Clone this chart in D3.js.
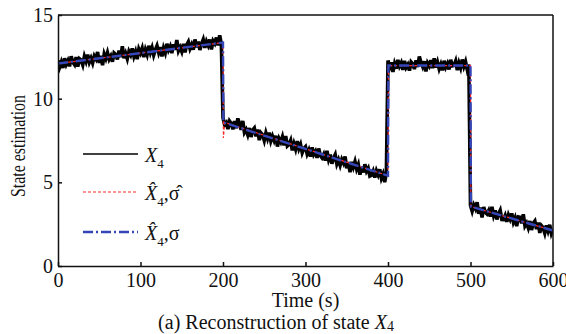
<!DOCTYPE html>
<html>
<head>
<meta charset="utf-8">
<script src="https://cdn.jsdelivr.net/npm/d3@7"></script>
<style>
  body { margin: 0; background: #fff; }
</style>
</head>
<body>
<div id="chart"></div>
<script>
// Measured state X4, sampled every 2 s
const measuredTime = d3.range(0, 601, 2);
const measuredX4 = [
  12.28, 11.89, 12.18, 11.83, 12.42, 12.05, 12.27, 11.93, 12.53, 12.18,
  12.04, 12.48, 11.91, 12.38, 12.30, 12.02, 12.52, 12.23, 12.63, 12.18,
  12.42, 12.13, 12.54, 12.37, 12.79, 12.14, 12.56, 12.00, 12.66, 12.40,
  12.75, 12.36, 12.55, 12.21, 12.73, 12.64, 12.34, 12.87, 12.48, 13.13,
  12.42, 12.70, 12.38, 12.82, 12.62, 13.00, 12.52, 12.81, 12.36, 12.96,
  12.73, 13.01, 12.48, 12.92, 12.64, 13.16, 12.76, 13.05, 12.60, 12.91,
  13.16, 12.76, 13.08, 12.52, 13.02, 12.74, 13.28, 12.91, 13.12, 12.72,
  13.24, 12.92, 13.51, 12.86, 13.07, 12.82, 13.27, 12.77, 13.22, 13.40,
  12.99, 13.23, 12.93, 13.54, 13.07, 13.41, 12.91, 13.28, 13.53, 13.04,
  13.42, 13.19, 13.54, 12.94, 13.45, 13.30, 13.65, 13.18, 13.78, 13.25,
  8.86, 8.43, 8.56, 8.18, 8.66, 8.52, 8.17, 8.66, 8.23, 8.82,
  8.50, 8.14, 8.67, 7.98, 8.15, 7.85, 8.25, 7.71, 8.12, 8.24,
  7.75, 8.15, 7.52, 7.95, 7.83, 7.50, 7.95, 7.62, 7.98, 7.47,
  7.76, 7.49, 7.78, 7.14, 7.61, 7.41, 7.71, 7.20, 7.76, 7.17,
  7.26, 7.50, 6.91, 7.31, 6.99, 7.46, 7.01, 7.26, 6.77, 7.02,
  7.13, 6.70, 6.93, 6.54, 7.09, 6.67, 6.84, 6.46, 7.02, 6.61,
  6.47, 6.67, 6.31, 6.88, 6.37, 6.66, 6.11, 6.44, 6.65, 6.10,
  6.35, 6.02, 6.37, 6.16, 6.54, 5.84, 6.21, 5.61, 6.23, 5.91,
  6.24, 5.80, 6.06, 5.46, 5.92, 5.59, 6.08, 5.67, 5.84, 5.38,
  5.43, 5.67, 5.29, 5.69, 5.45, 5.78, 5.25, 5.50, 5.01, 5.55,
  12.28, 11.87, 12.17, 11.60, 12.09, 11.79, 12.32, 11.94, 12.14, 11.72,
  12.26, 11.86, 12.03, 11.68, 12.19, 12.08, 11.77, 12.29, 11.89, 12.52,
  12.15, 11.91, 12.24, 11.63, 12.13, 11.96, 12.30, 11.82, 12.41, 11.86,
  12.18, 11.78, 12.05, 11.69, 12.27, 11.88, 12.09, 11.74, 12.33, 11.96,
  11.98, 12.25, 11.70, 12.13, 11.84, 12.34, 11.93, 12.21, 11.75, 12.04,
  3.61, 3.28, 3.64, 3.43, 3.81, 3.12, 3.50, 2.90, 3.52, 3.21,
  3.11, 3.31, 2.96, 3.53, 3.02, 3.32, 2.78, 3.11, 3.32, 2.78,
  2.77, 3.01, 2.64, 3.04, 2.80, 3.14, 2.62, 2.87, 2.38, 2.93,
  2.91, 2.55, 3.09, 2.40, 2.57, 2.28, 2.69, 2.15, 2.56, 2.69,
  2.20, 2.60, 1.98, 2.41, 2.29, 1.97, 2.43, 2.10, 2.46, 1.96,
  2.22
];

// Reconstruction with estimated sigma (red dashed)
const estHatTime = [0, 200, 200.5, 202, 400, 400.5, 500, 500.5, 600];
const estHatX4 = [12.10, 13.35, 7.65, 8.58, 5.40, 11.98, 11.98, 3.55, 2.12];

// Reconstruction with true sigma (blue dash-dot)
const estTime = [0, 200, 200.5, 400, 400.5, 500, 500.5, 600];
const estX4 = [12.10, 13.35, 8.58, 5.40, 11.98, 11.98, 3.55, 2.12];

const xTicks = [0, 100, 200, 300, 400, 500, 600];
const yTicks = [0, 5, 10, 15];

const serif = '"Liberation Serif", "DejaVu Serif", "Times New Roman", Times, serif';

const width = 566, height = 334;
const margin = { top: 15, right: 13, bottom: 68, left: 58 };

const svg = d3.select('#chart')
  .append('svg')
  .attr('width', width)
  .attr('height', height)
  .style('font-family', serif);

const x = d3.scaleLinear().domain([0, 600]).range([margin.left, width - margin.right]);
const y = d3.scaleLinear().domain([0, 15]).range([height - margin.bottom, margin.top]);

const plot = svg.append('g');

// clip so the noisy trace stays in the frame
svg.append('clipPath').attr('id', 'clip')
  .append('rect')
  .attr('x', x(0)).attr('y', y(15))
  .attr('width', x(600) - x(0)).attr('height', y(0) - y(15));

const lineMeasured = d3.line()
  .x((d, i) => x(measuredTime[i]))
  .y(d => y(d));

plot.append('path')
  .attr('clip-path', 'url(#clip)')
  .attr('d', lineMeasured(measuredX4))
  .attr('fill', 'none')
  .attr('stroke', '#000')
  .attr('stroke-width', 3.6);

const lineHat = d3.line()
  .x((d, i) => x(estHatTime[i]))
  .y(d => y(d));

plot.append('path')
  .attr('d', lineHat(estHatX4))
  .attr('fill', 'none')
  .attr('stroke', '#ff2a2a')
  .attr('stroke-width', 1.2)
  .attr('stroke-dasharray', '3,2');

const lineEst = d3.line()
  .x((d, i) => x(estTime[i]))
  .y(d => y(d));

plot.append('path')
  .attr('d', lineEst(estX4))
  .attr('fill', 'none')
  .attr('stroke', '#3546b8')
  .attr('stroke-width', 2.4)
  .attr('stroke-dasharray', '10,3,2,3');

// Axes (ticks inward)
const xAxis = svg.append('g')
  .attr('transform', `translate(0,${y(0)})`)
  .call(d3.axisBottom(x).tickValues(xTicks).tickSizeInner(-4).tickSizeOuter(0).tickPadding(7));
const yAxis = svg.append('g')
  .attr('transform', `translate(${x(0)},0)`)
  .call(d3.axisLeft(y).tickValues(yTicks).tickSizeInner(-4).tickSizeOuter(0).tickPadding(5));

[xAxis, yAxis].forEach(a => {
  a.attr('font-family', serif).attr('font-size', 20);
  a.select('.domain').attr('stroke', '#111').attr('stroke-width', 1.5);
  a.selectAll('line').attr('stroke', '#111').attr('stroke-width', 1.5);
  a.selectAll('text').attr('fill', '#111');
});

// top and right frame
svg.append('line')
  .attr('x1', x(0)).attr('x2', x(600)).attr('y1', y(15)).attr('y2', y(15))
  .attr('stroke', '#111').attr('stroke-width', 1.5);
svg.append('line')
  .attr('x1', x(600)).attr('x2', x(600)).attr('y1', y(15)).attr('y2', y(0))
  .attr('stroke', '#111').attr('stroke-width', 1.5);

// Axis titles
svg.append('text')
  .attr('x', (x(0) + x(600)) / 2)
  .attr('y', 307)
  .attr('text-anchor', 'middle')
  .attr('font-size', 20)
  .attr('fill', '#111')
  .text('Time (s)');

svg.append('text')
  .attr('transform', `translate(25,146) rotate(-90)`)
  .attr('text-anchor', 'middle')
  .attr('font-size', 20)
  .attr('textLength', 102)
  .attr('lengthAdjust', 'spacingAndGlyphs')
  .attr('fill', '#111')
  .text('State estimation');

// Caption
const cap = svg.append('text')
  .attr('x', 276)
  .attr('y', 329)
  .attr('text-anchor', 'middle')
  .attr('font-size', 20)
  .attr('fill', '#111');
cap.append('tspan').text('(a) Reconstruction of state ');
cap.append('tspan').attr('font-style', 'italic').text('X');
cap.append('tspan').attr('font-size', 14).attr('dy', 1.5).text('4');

// Legend
const legendItems = [
  { color: '#000', width: 1.6, dash: null, y: 154, hatX: false, sigma: null },
  { color: '#ff2a2a', width: 1.2, dash: '3,2', y: 192, hatX: true, sigma: 'σ\u0302' },
  { color: '#3546b8', width: 2.4, dash: '10,3,2,3', y: 232, hatX: true, sigma: 'σ' }
];

const legend = svg.append('g');
legendItems.forEach(item => {
  legend.append('line')
    .attr('x1', 83).attr('x2', 138)
    .attr('y1', item.y).attr('y2', item.y)
    .attr('stroke', item.color)
    .attr('stroke-width', item.width)
    .attr('stroke-dasharray', item.dash);

  const t = legend.append('text')
    .attr('x', 145)
    .attr('y', item.y + 8)
    .attr('font-size', 20)
    .attr('fill', '#111');
  t.append('tspan').attr('font-style', 'italic').text(item.hatX ? 'X\u0302' : 'X');
  t.append('tspan').attr('font-size', 13).attr('dy', 6).text('4');
  if (item.sigma) {
    t.append('tspan').attr('dy', -6).text(',' + item.sigma);
  }
});
</script>
</body>
</html>
